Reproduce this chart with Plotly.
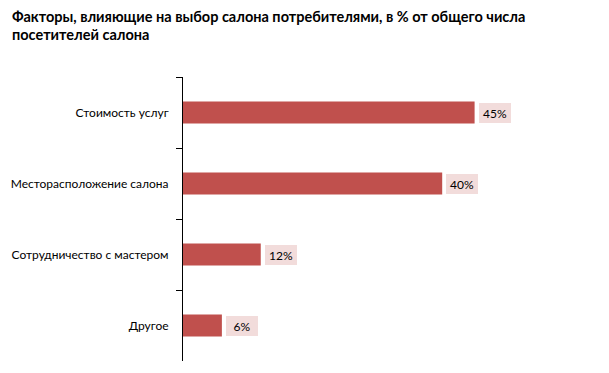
import plotly.graph_objects as go

categories = ["Стоимость услуг", "Месторасположение салона", "Сотрудничество с мастером", "Другое"]
values = [45, 40, 12, 6]
labels = ["45%", "40%", "12%", "6%"]

title = "Факторы, влияющие на выбор салона потребителями, в % от общего числа<br>посетителей салона"

fig = go.Figure()
fig.add_trace(go.Bar(
    y=categories, x=values, orientation="h",
    marker=dict(color="#C0504D", line=dict(width=0)),
    hoverinfo="skip",
))

for c, v, t in zip(categories, values, labels):
    fig.add_annotation(
        x=v, y=c, text=t, showarrow=False, xanchor="left", xshift=4,
        bgcolor="#F2DCDB", borderpad=2, borderwidth=0, width=28, height=16,
        font=dict(family="Lato, sans-serif", size=12, color="#000000"),
    )

fig.update_layout(
    template="none",
    width=609, height=373,
    margin=dict(l=183, r=102, t=77, b=12, autoexpand=False),
    paper_bgcolor="white", plot_bgcolor="white",
    showlegend=False,
    bargap=0.69,
    title=dict(
        text="<b>" + title + "</b>",
        x=12 / 609, xref="container", xanchor="left", y=0.942, yref="container", yanchor="top",
        font=dict(family="Lato, sans-serif", size=14.5, color="#000000"),
    ),
)

fig.update_xaxes(range=[0, 50], visible=False, fixedrange=True, automargin=False)
fig.update_yaxes(
    autorange="reversed", showline=True, linecolor="#000000", linewidth=1,
    ticks="outside", ticklen=6, tickcolor="#000000", tickson="boundaries",
    showgrid=False, zeroline=False, automargin=False, fixedrange=True,
    tickfont=dict(family="Lato, sans-serif", size=12, color="#000000"),
    ticklabelstandoff=11,
)

fig.write_html(
    "out.html",
    config={"displayModeBar": False, "staticPlot": True},
    post_script="document.body.style.margin='0';",
)
